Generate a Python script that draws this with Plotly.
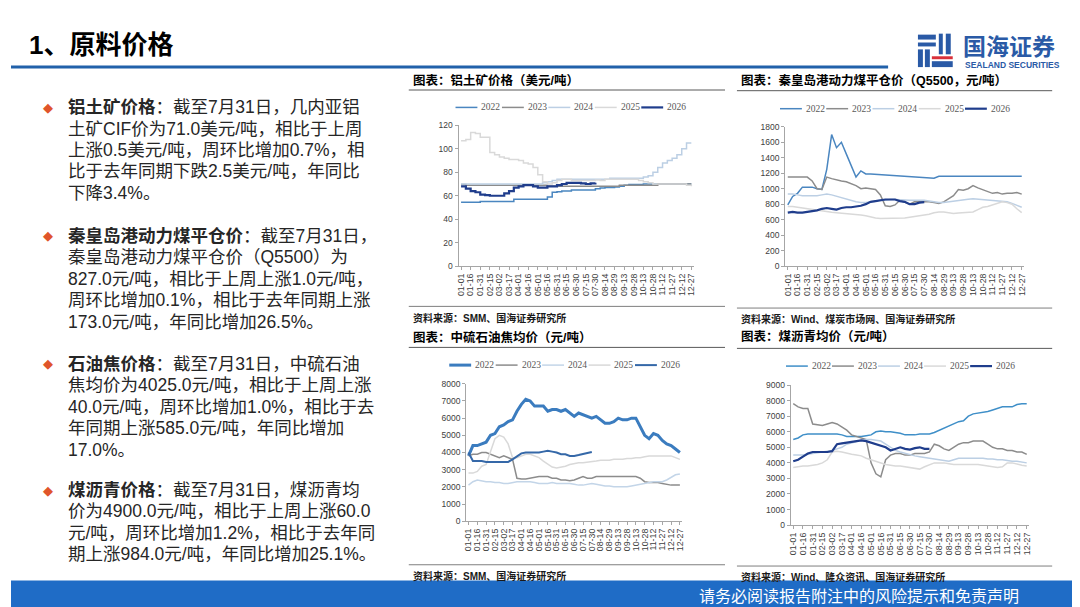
"""
Slide: 1、原料价格 - four small seasonal line charts (2022-2026) plus commentary.
"""

import plotly.graph_objects as go

W, H = 1080, 607

# ---------------------------------------------------------------------------
# Data
# ---------------------------------------------------------------------------

tick_labels = ["01-01", "01-16", "01-31", "02-15", "03-02", "03-17", "04-01",
               "04-16", "05-01", "05-16", "05-31", "06-15", "06-30", "07-15",
               "07-30", "08-14", "08-29", "09-13", "09-28", "10-13", "10-28",
               "11-12", "11-27", "12-12", "12-27"]
tick_days = [15 * i for i in range(len(tick_labels))]

# readings every 7.5 days from 01-01 (day 0) to 12-27 (day 360)
sample_days = [7.5 * i for i in range(49)]

years = ["2022", "2023", "2024", "2025", "2026"]

# 铝土矿价格（美元/吨）
bauxite_2022 = [54.5, 54.5, 54.5, 54.5, 55, 55, 55, 55, 55, 55, 55, 57, 57, 57, 57, 57, 57,
                57, 59, 63, 63.5, 64, 64, 65, 65, 65, 65, 65, 66, 66.5, 67, 67, 67.5, 68,
                69, 69.5, 69.5, 69.5, 70, 70, 70, 70, 70, 70, 70, 70, 70, 70, 70]
bauxite_2023 = [69.5, 69, 69, 69, 69, 69, 69, 69, 69, 69, 69, 69, 69, 69, 69, 69, 69, 69,
                68, 68, 68, 68, 68, 68, 68, 68, 68, 68, 68, 68, 68, 68, 68,
                69, 69, 69, 69, 69, 69, 69, 69, 70, 70, 70, 70, 70, 70, 70, 70]
bauxite_2024 = [70, 70, 70, 70, 70, 70, 70, 70, 70, 70, 70, 70, 70, 70, 70, 70, 70, 71, 72,
                73, 74, 74, 74, 74, 74, 74, 74, 74, 74, 74, 74, 75, 75, 75, 75, 75, 75,
                75, 76, 77, 80, 84, 88, 90, 92, 95, 100, 105, 105]
bauxite_2025 = [107, 108, 114, 113, 110, 110, 97, 95, 93, 92, 91, 91, 90, 88, 87, 84, 78,
                72, 70, 71, 73, 74, 74, 73, 73, 73, 73, 73, 73.5, 73, 74, 74, 74, 74, 74,
                74, 74, 73, 72, 71, 70, 70, 70, 70, 70, 70, 70, 69, 68]
bauxite_2026 = [68, 66, 64, 63, 61, 60.5, 60, 60, 60, 62, 64, 67, 68, 69, 69, 68, 67, 67,
                68, 68, 69, 70, 71, 71, 71, 70.5, 70, 70.5, 71]

# 秦皇岛港动力煤平仓价（Q5500，元/吨）
coal_2022 = [790, 900, 940, 1020, 1020, 1020, 1000, 990, 1250, 1700, 1530, 1600, 1450,
             1300, 1150, 1230, 1190, 1190, 1185, 1180, 1180, 1175, 1170, 1165, 1160, 1155,
             1150, 1150, 1145, 1140, 1135, 1160, 1160, 1160, 1160, 1160, 1160, 1160, 1160,
             1160, 1160, 1160, 1160, 1160, 1160, 1160, 1160, 1160, 1160]
coal_2023 = [1150, 1150, 1150, 1150, 1150, 1100, 1000, 990, 1150, 1130, 1110, 1100, 1090,
             1070, 1040, 1000, 1010, 1000, 990, 920, 780, 770, 790, 850, 820, 800, 830, 840,
             830, 830, 820, 810, 830, 870, 910, 990, 980, 1000, 1040, 1010, 990, 960, 940,
             950, 930, 940, 940, 950, 930]
coal_2024 = [930, 930, 920, 910, 910, 910, 910, 920, 930, 920, 900, 880, 860, 840, 830, 820,
             820, 830, 840, 850, 850, 860, 860, 855, 850, 850, 850, 850, 850, 840, 830, 820,
             820, 830, 840, 850, 860, 865, 870, 865, 860, 855, 850, 845, 840, 830, 810, 780,
             760]
coal_2025 = [770, 770, 760, 750, 740, 730, 720, 710, 700, 695, 690, 685, 680, 675, 670, 660,
             650, 635, 620, 615, 615, 615, 615, 618, 620, 630, 640, 648, 655, 670, 690, 700,
             700, 690, 680, 685, 690, 695, 700, 730, 760, 770, 790, 810, 830, 820, 800, 740,
             690]
coal_2026 = [690, 700, 690, 690, 700, 710, 720, 740, 750, 740, 730, 750, 760, 760, 770, 780,
             800, 830, 840, 850, 860, 860, 860, 840, 830, 800, 800, 820, 827]

# 中硫石油焦均价（元/吨）
coke_2022 = [3800, 4400, 4400, 4500, 4600, 5000, 5100, 5500, 5600, 5800, 5900, 6400, 6800,
             7100, 7000, 6700, 6700, 6700, 6400, 6500, 6500, 6400, 6500, 6300, 6100, 6300,
             6200, 6100, 6000, 6100, 5900, 5700, 5700, 5800, 6000, 5900, 5900, 6000, 6000,
             5500, 5000, 4800, 5100, 5000, 4700, 4500, 4400, 4200, 4000]
coke_2023 = [3800, 3900, 3900, 4000, 4000, 3900, 3800, 3700, 3800, 3700, 3600, 2500, 2450,
             2450, 2500, 2550, 2600, 2600, 2600, 2500, 2500, 2400, 2400, 2350, 2400, 2500,
             2600, 2500, 2500, 2600, 2600, 2600, 2600, 2600, 2600, 2600, 2600, 2600, 2600,
             2500, 2300, 2250, 2250, 2250, 2200, 2150, 2100, 2100, 2100]
coke_2024 = [2100, 2300, 2400, 2350, 2300, 2300, 2250, 2250, 2200, 2200, 2250, 2300, 2300,
             2300, 2300, 2250, 2200, 2200, 2200, 2250, 2200, 2200, 2200, 2200, 2150, 2100,
             2100, 2150, 2200, 2150, 2100, 2050, 2050, 2000, 2000, 2000, 2000, 2050, 2100,
             2150, 2200, 2250, 2300, 2300, 2300, 2400, 2550, 2700, 2750]
coke_2025 = [2800, 2800, 2900, 3200, 3300, 4000, 4800, 5000, 4900, 4500, 3700, 3700, 3800,
             3900, 3900, 3800, 3700, 3500, 3300, 3150, 3100, 3150, 3200, 3300, 3350, 3400,
             3400, 3420, 3440, 3500, 3550, 3550, 3550, 3600, 3600, 3600, 3650, 3650, 3700,
             3700, 3750, 3800, 3800, 3800, 3800, 3800, 3800, 3700, 3600]
coke_2026 = [4000, 3500, 3500, 3500, 3450, 3450, 3450, 3450, 3450, 3450, 3600, 3800, 3950,
             4000, 4000, 4000, 4000, 4050, 4100, 4050, 4000, 3900, 3900, 3800, 3800, 3850,
             3900, 3950, 4025]

# 煤沥青均价（元/吨）
pitch_2022 = [5500, 5600, 5800, 5850, 5850, 5850, 5850, 5850, 5850, 5850, 5800, 5700, 5700,
              5700, 5700, 5750, 5800, 6000, 6050, 6000, 6000, 5950, 5900, 5800, 5800, 5800,
              5850, 5850, 5850, 5950, 6100, 6250, 6350, 6500, 6650, 6700, 7000, 7150, 7200,
              7250, 7300, 7400, 7500, 7600, 7600, 7600, 7750, 7800, 7800]
pitch_2023 = [7800, 7600, 7500, 7500, 6500, 6450, 6400, 6500, 6600, 6500, 6300, 6100, 5800,
              5700, 5600, 5500, 4000, 3300, 3100, 4200, 4500, 4600, 4600, 4500, 4500, 4600,
              4600, 4600, 4700, 5200, 5100, 4900, 4800, 5000, 5200, 5300, 5300, 5400, 5400,
              5400, 5200, 5000, 4900, 4900, 4800, 4800, 4700, 4700, 4550]
pitch_2024 = [4500, 4500, 4500, 4550, 4600, 4650, 4700, 4750, 4800, 4900, 5000, 5200, 5300,
              5400, 5450, 5500, 5500, 5450, 5400, 5200, 5000, 4800, 4700, 4600, 4500, 4450,
              4400, 4350, 4300, 4250, 4200, 4150, 4100, 4200, 4300, 4300, 4300, 4300, 4300,
              4300, 4250, 4250, 4200, 4200, 4150, 4100, 4100, 4050, 4000]
pitch_2025 = [3700, 3750, 3800, 3800, 3850, 3900, 4000, 4200, 4700, 4750, 4700, 4600, 4550,
              4500, 4450, 4300, 4200, 4100, 4000, 3900, 3850, 3800, 3800, 3750, 3700, 3650,
              3600, 3750, 3900, 4000, 4000, 4000, 3950, 3900, 3900, 3900, 3900, 3900, 3900,
              3850, 3800, 3750, 3700, 3750, 4000, 4000, 3900, 3850, 3800]
pitch_2026 = [4100, 4200, 4400, 4600, 4700, 4700, 4700, 4700, 4750, 5200, 5250, 5300, 5350,
              5400, 5450, 5400, 5300, 5200, 5100, 5000, 4800, 4900, 5000, 4900, 4850, 4950,
              5000, 4900, 4900]

# ---------------------------------------------------------------------------
# Text
# ---------------------------------------------------------------------------

bullets = [
    ["<b>铝土矿价格</b>：截至7月31日，几内亚铝",
     "土矿CIF价为71.0美元/吨，相比于上周",
     "上涨0.5美元/吨，周环比增加0.7%，相",
     "比于去年同期下跌2.5美元/吨，年同比",
     "下降3.4%。"],
    ["<b>秦皇岛港动力煤平仓价</b>：截至7月31日，",
     "秦皇岛港动力煤平仓价（Q5500）为",
     "827.0元/吨，相比于上周上涨1.0元/吨，",
     "周环比增加0.1%，相比于去年同期上涨",
     "173.0元/吨，年同比增加26.5%。"],
    ["<b>石油焦价格</b>：截至7月31日，中硫石油",
     "焦均价为4025.0元/吨，相比于上周上涨",
     "40.0元/吨，周环比增加1.0%，相比于去",
     "年同期上涨585.0元/吨，年同比增加",
     "17.0%。"],
    ["<b>煤沥青价格</b>：截至7月31日，煤沥青均",
     "价为4900.0元/吨，相比于上周上涨60.0",
     "元/吨，周环比增加1.2%，相比于去年同",
     "期上涨984.0元/吨，年同比增加25.1%。"],
]

CJK = "Liberation Sans, Noto Sans CJK SC"
BLUE_STD = ["#4a86c0", "#8c8c8c", "#bccfe4", "#d9d9d9", "#1f3d8c"]

charts = [
    dict(title="图表：铝土矿价格（美元/吨）",
         source="资料来源：SMM、国海证券研究所",
         series=[bauxite_2022, bauxite_2023, bauxite_2024, bauxite_2025, bauxite_2026],
         ymax=120, dtick=20, shape="hv",
         box=(450, 686.7, 114.3, 257.3), legend=(447, 96, 46.7),
         head=(400, 718, 69, 78.3), foot=(298.3, 310),
         colors=BLUE_STD, widths=[1.5, 1.5, 1.5, 1.5, 2.2]),
    dict(title="图表：秦皇岛港动力煤平仓价（Q5500，元/吨）",
         source="资料来源：Wind、煤炭市场网、国海证券研究所",
         series=[coal_2022, coal_2023, coal_2024, coal_2025, coal_2026],
         ymax=1800, dtick=200, shape="linear",
         box=(778.5, 1019, 115.7, 257.3), legend=(773.3, 97.3, 46.5),
         head=(730, 1047, 68.3, 79), foot=(300, 311),
         colors=BLUE_STD, widths=[1.5, 1.5, 1.5, 1.5, 2.2]),
    dict(title="图表：中硫石油焦均价（元/吨）",
         source="资料来源：SMM、国海证券研究所",
         series=[coke_2022, coke_2023, coke_2024, coke_2025, coke_2026],
         ymax=8000, dtick=1000, shape="linear",
         box=(457.7, 675, 377, 516.7), legend=(440.7, 358, 46.7),
         head=(400, 718, 330, 340), foot=(561, 572),
         colors=["#3b7cbf", "#8c8c8c", "#c3d5e8", "#d9d9d9", "#3568a8"],
         widths=[3, 1.5, 1.5, 1.5, 2]),
    dict(title="图表：煤沥青均价（元/吨）",
         source="资料来源：Wind、隆众资讯、国海证券研究所",
         series=[pitch_2022, pitch_2023, pitch_2024, pitch_2025, pitch_2026],
         ymax=9000, dtick=1000, shape="linear",
         box=(784, 1024, 378.3, 520.7), legend=(779.3, 359, 46.3),
         head=(730, 1047, 329, 341), foot=(562.3, 573),
         colors=["#3f8fc8", "#8c8c8c", "#bccfe4", "#d9d9d9", "#1f3d8c"],
         widths=[1.5, 1.5, 1.5, 1.5, 2.2]),
]


def px(x):
    return x / W


def py(y):
    return 1 - y / H


def hline(x0, x1, y, color, width):
    return dict(type="line", xref="paper", yref="paper", x0=px(x0), x1=px(x1),
                y0=py(y), y1=py(y), line=dict(color=color, width=width))


def rect(x0, x1, y0, y1, color):
    return dict(type="rect", xref="paper", yref="paper", x0=px(x0), x1=px(x1),
                y0=py(y1), y1=py(y0), fillcolor=color, line=dict(width=0))


def label(text, x, y, size, color="#000000", xanchor="left", family=CJK):
    return dict(text=text, x=px(x), y=py(y), xref="paper", yref="paper",
                xanchor=xanchor, yanchor="middle", showarrow=False,
                font=dict(family=family, size=size, color=color))


# ---------------------------------------------------------------------------
# Figure
# ---------------------------------------------------------------------------

fig = go.Figure()
shapes, annotations = [], []

for k, c in enumerate(charts, start=1):
    suffix = "" if k == 1 else str(k)
    for yr, vals, col, lw in zip(years, c["series"], c["colors"], c["widths"]):
        fig.add_trace(go.Scatter(
            x=sample_days[:len(vals)], y=vals, mode="lines", name=yr,
            line=dict(color=col, width=lw, shape=c["shape"]),
            xaxis="x" + suffix, yaxis="y" + suffix,
            showlegend=False, hoverinfo="skip"))

    x0, x1, y_top, y_bot = c["box"]
    fig.update_layout(**{
        "xaxis" + suffix: dict(
            domain=[px(x0), px(x1)], anchor="y" + suffix, range=[-4, 364],
            tickmode="array", tickvals=tick_days, ticktext=tick_labels,
            tickangle=-90, tickfont=dict(family="Liberation Sans", size=8.8, color="#404040"),
            showline=True, linecolor="#a6a6a6", ticks="outside", ticklen=3,
            tickcolor="#a6a6a6", showgrid=False, zeroline=False, fixedrange=True),
        "yaxis" + suffix: dict(
            domain=[py(y_bot), py(y_top)], anchor="x" + suffix, range=[0, c["ymax"]],
            dtick=c["dtick"], tickfont=dict(family="Liberation Sans", size=8.5, color="#404040"),
            showline=True, linecolor="#a6a6a6", ticks="outside", ticklen=3,
            tickcolor="#a6a6a6", showgrid=False, zeroline=False, fixedrange=True),
    })

    # manual legend
    lx, ly, step = c["legend"]
    for i, (yr, col, lw) in enumerate(zip(years, c["colors"], c["widths"])):
        sx = lx + i * step
        shapes.append(hline(sx, sx + 22, ly, col, lw))
        annotations.append(label(yr, sx + 24, ly, 9.5, "#595959",
                                 family="Liberation Serif"))

    # title, rules and source
    hx0, hx1, ty, ry = c["head"]
    annotations.append(label("<b>" + c["title"] + "</b>", hx0 + 2, ty, 12.5))
    shapes.append(hline(hx0, hx1, ry, "#595959", 1))
    fy_line, fy_text = c["foot"]
    shapes.append(hline(hx0, hx1, fy_line, "#7f7f7f", 1))
    annotations.append(label("<b>" + c["source"] + "</b>", hx0 + 2, fy_text, 10, "#1a1a1a"))

# header
annotations.append(label("<b>1、原料价格</b>", 16, 33, 26))
shapes.append(hline(0, 882, 55, "#2161aa", 3))

# logo
logo_blue, logo_red = "#2a5aa6", "#d9303a"
for bx0, bx1, by0, by1 in [(912, 930, 22, 27), (912, 930, 30, 34), (912, 917, 37, 55),
                           (919, 924, 37, 55), (933, 937, 21, 42), (940, 945, 21, 42),
                           (926, 947, 49, 55)]:
    shapes.append(rect(bx0, bx1, by0, by1, logo_blue))
shapes.append(rect(926, 947, 44, 47, logo_red))
annotations.append(label("<b>国海证券</b>", 955, 33, 23, logo_blue, family="Noto Sans CJK SC"))
annotations.append(label("<b>SEALAND SECURITIES</b>", 957, 53, 8.5, logo_blue,
                         family="Liberation Sans"))

# commentary bullets
bullet_top = [95.7, 226.7, 356.7, 485]
for y0, lines in zip(bullet_top, bullets):
    annotations.append(label("◆", 37, y0, 13, "#e0552a", xanchor="center",
                             family="DejaVu Sans"))
    for j, line in enumerate(lines):
        annotations.append(label(line, 55, y0 + j * 21.8, 17.5, "#262626"))

# footer bar
shapes.append(rect(0, 1080, 577, 607, "#1f6cc6"))
annotations.append(label("请务必阅读报告附注中的风险提示和免责声明", 690, 592, 16, "#ffffff",
                         family="Noto Sans CJK SC"))

fig.update_layout(
    width=W, height=H, autosize=False,
    margin=dict(l=0, r=0, t=0, b=0),
    paper_bgcolor="#ffffff", plot_bgcolor="#ffffff",
    showlegend=False, shapes=shapes, annotations=annotations,
)

fig.write_html("out.html")
